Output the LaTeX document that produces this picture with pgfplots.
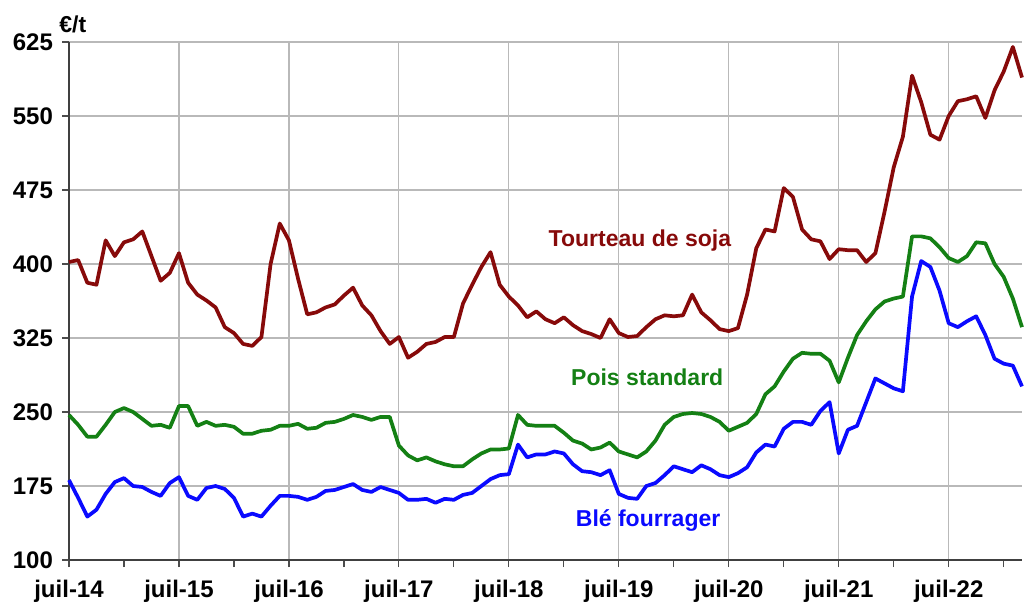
\documentclass[border=0pt]{standalone}
\usepackage{fontspec}
\setmainfont{Liberation Sans}
\usepackage{pgfplots}
\pgfplotsset{compat=1.18}
\definecolor{soja}{RGB}{135,10,10}
\definecolor{pois}{RGB}{20,128,20}
\definecolor{ble}{RGB}{10,10,255}
\definecolor{gridc}{RGB}{185,185,185}
\begin{document}
\begin{tikzpicture}
\begin{axis}[name=ax,
  scale only axis, width=476.5pt, height=259pt,
  xmin=0, xmax=104, ymin=100, ymax=625,
  axis x line*=bottom, axis y line*=left,
  tick align=outside,
  ytick={100,175,...,625},
  xtick={0,12,...,96},
  xticklabels={juil-14,juil-15,juil-16,juil-17,juil-18,juil-19,juil-20,juil-21,juil-22},
  minor xtick={6,18,...,102},
  xmajorgrids, ymajorgrids,
  grid style={gridc, line width=0.6pt},
  major tick length=3.5pt, minor tick length=3.5pt,
  tick style={black!70, line width=0.6pt},
  axis line style={black!75, line width=0.8pt},
  tick label style={font=\bfseries\fontsize{12}{14}\selectfont},
  /pgf/number format/assume math mode=true,
  xticklabel style={yshift=-3pt},
  yticklabel style={xshift=-1pt},
  clip=false,
  every axis plot/.append style={line width=1.85pt, line join=round, mark=none},
]
\addplot[soja] coordinates {
(0,402)(1,404)(2,381)(3,379)(4,424)(5,408)(6,422)(7,425)(8,433)(9,408)
(10,383)(11,391)(12,411)(13,381)(14,369)(15,363)(16,356)(17,336)(18,330)(19,319)
(20,317)(21,326)(22,400)(23,441)(24,424)(25,385)(26,349)(27,351)(28,356)(29,359)
(30,368)(31,376)(32,358)(33,348)(34,332)(35,319)(36,326)(37,305)(38,311)(39,319)
(40,321)(41,326)(42,326)(43,360)(44,379)(45,397)(46,412)(47,379)(48,367)(49,358)
(50,346)(51,352)(52,344)(53,340)(54,346)(55,338)(56,332)(57,329)(58,325)(59,344)
(60,330)(61,326)(62,327)(63,336)(64,344)(65,348)(66,347)(67,348)(68,369)(69,351)
(70,343)(71,334)(72,332)(73,335)(74,369)(75,416)(76,435)(77,433)(78,477)(79,468)
(80,435)(81,425)(82,423)(83,405)(84,415)(85,414)(86,414)(87,402)(88,411)(89,453)
(90,498)(91,529)(92,591)(93,564)(94,531)(95,526)(96,550)(97,565)(98,567)(99,570)
(100,548)(101,576)(102,595)(103,620)(104,589)
};
\addplot[pois] coordinates {
(0,247)(1,237)(2,225)(3,225)(4,237)(5,250)(6,254)(7,250)(8,243)(9,236)
(10,237)(11,234)(12,256)(13,256)(14,236)(15,240)(16,236)(17,237)(18,235)(19,228)
(20,228)(21,231)(22,232)(23,236)(24,236)(25,238)(26,233)(27,234)(28,239)(29,240)
(30,243)(31,247)(32,245)(33,242)(34,245)(35,245)(36,216)(37,206)(38,201)(39,204)
(40,200)(41,197)(42,195)(43,195)(44,202)(45,208)(46,212)(47,212)(48,213)(49,247)
(50,237)(51,236)(52,236)(53,236)(54,229)(55,221)(56,218)(57,212)(58,214)(59,219)
(60,210)(61,207)(62,204)(63,210)(64,221)(65,237)(66,245)(67,248)(68,249)(69,248)
(70,245)(71,240)(72,231)(73,235)(74,239)(75,248)(76,268)(77,276)(78,291)(79,304)
(80,310)(81,309)(82,309)(83,302)(84,280)(85,305)(86,328)(87,342)(88,354)(89,362)
(90,365)(91,367)(92,428)(93,428)(94,426)(95,417)(96,406)(97,402)(98,408)(99,422)
(100,421)(101,400)(102,387)(103,365)(104,336)
};
\addplot[ble] coordinates {
(0,181)(1,163)(2,144)(3,151)(4,167)(5,179)(6,183)(7,175)(8,174)(9,169)
(10,165)(11,178)(12,184)(13,165)(14,161)(15,173)(16,175)(17,172)(18,163)(19,144)
(20,147)(21,144)(22,155)(23,165)(24,165)(25,164)(26,161)(27,164)(28,170)(29,171)
(30,174)(31,177)(32,171)(33,169)(34,174)(35,171)(36,168)(37,161)(38,161)(39,162)
(40,158)(41,162)(42,161)(43,166)(44,168)(45,175)(46,182)(47,186)(48,187)(49,217)
(50,204)(51,207)(52,207)(53,210)(54,208)(55,197)(56,190)(57,189)(58,186)(59,191)
(60,167)(61,163)(62,162)(63,175)(64,178)(65,186)(66,195)(67,192)(68,189)(69,196)
(70,192)(71,186)(72,184)(73,188)(74,194)(75,209)(76,217)(77,215)(78,233)(79,240)
(80,240)(81,237)(82,251)(83,260)(84,208)(85,232)(86,236)(87,260)(88,284)(89,279)
(90,274)(91,271)(92,367)(93,403)(94,397)(95,373)(96,340)(97,336)(98,342)(99,347)
(100,328)(101,304)(102,299)(103,297)(104,276)
};
\node[text=soja, font=\bfseries\fontsize{11.5}{13}\selectfont] at (axis cs:62.3,424) {Tourteau de soja};
\node[text=pois, font=\bfseries\fontsize{11.5}{13}\selectfont] at (axis cs:63.1,285) {Pois standard};
\node[text=ble, font=\bfseries\fontsize{11.5}{13}\selectfont] at (axis cs:63.2,140.5) {Blé fourrager};
\node[font=\bfseries\fontsize{11.5}{13}\selectfont] at ([yshift=9pt]rel axis cs:0.004,1) {€/t};
\end{axis}
\pgfresetboundingbox
\path ([shift={(-34.5pt,-20.5pt)}]ax.south west) rectangle ([shift={(2pt,21pt)}]ax.north east);
\end{tikzpicture}
\end{document}
